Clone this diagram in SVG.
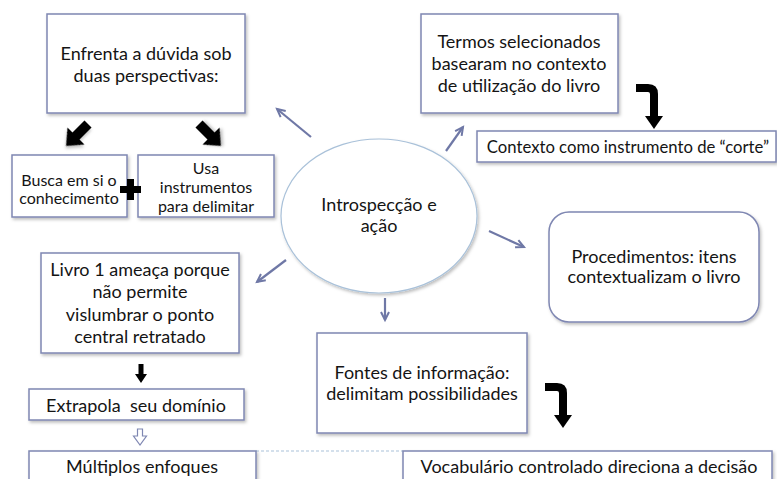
<svg xmlns="http://www.w3.org/2000/svg" width="777" height="479" viewBox="0 0 777 479">
<defs>
<filter id="sh" x="-10%" y="-10%" width="130%" height="140%">
<feDropShadow dx="1.5" dy="2" stdDeviation="1.5" flood-color="#000" flood-opacity="0.25"/>
</filter>
<marker id="ah" markerUnits="userSpaceOnUse" markerWidth="12" markerHeight="12" refX="9" refY="5" orient="auto" viewBox="0 0 12 10">
<path d="M1,1 L9,5 L1,9" fill="none" stroke="#6f78a6" stroke-width="2"/>
</marker>
<g id="bend">
<path d="M0,4 H12 Q18,4 18,10 V33" fill="none" stroke="#000" stroke-width="8"/>
<polygon points="9,32 27,32 18,45" fill="#000"/>
</g>
</defs>
<style>
.box{fill:#fff;stroke:#7f87b2;stroke-width:1.5}
.t{font-family:Lato,"Liberation Sans",sans-serif;font-size:18px;fill:#141414;text-anchor:middle}
.s{font-size:16px}
.c{stroke:#6f78a6;stroke-width:2.2;fill:none}
</style>
<rect width="777" height="479" fill="#fff"/>

<g id="connectors">
<line class="c" x1="311" y1="137" x2="277" y2="109" marker-end="url(#ah)"/>
<line class="c" x1="446" y1="151" x2="463" y2="127" marker-end="url(#ah)"/>
<line class="c" x1="489" y1="231" x2="524" y2="247" marker-end="url(#ah)"/>
<line class="c" x1="286" y1="260" x2="257" y2="282" marker-end="url(#ah)"/>
<line class="c" x1="385" y1="298" x2="385" y2="320" marker-end="url(#ah)"/>
<polygon points="0,0 10,0 10,17 17,17 5,31 -7,17 0,17" transform="translate(88,124) rotate(45) translate(-5,0)" fill="#000" filter="url(#sh)"/>
<polygon points="0,0 10,0 10,17 17,17 5,31 -7,17 0,17" transform="translate(199,124) rotate(-45) translate(-5,0)" fill="#000" filter="url(#sh)"/>
<use href="#bend" x="636" y="84"/>
<use href="#bend" x="545" y="383"/>
<polygon points="138.5,364 143.5,364 143.5,374 147,374 141,383 135,374 138.5,374" fill="#000"/>
<polygon points="137.5,429 142.5,429 142.5,436 146.5,436 140,445 133.5,436 137.5,436" fill="#fff" stroke="#7f87b2" stroke-width="1.2"/>
<line x1="256" y1="451" x2="403" y2="451" stroke="#a9c1d9" stroke-width="1" stroke-dasharray="3,2"/>
</g>

<g id="n-enfrenta">
<rect class="box" x="47" y="14" width="198" height="99" filter="url(#sh)"/>
<text class="t" x="146" y="60">Enfrenta a dúvida sob</text>
<text class="t" x="146" y="82">duas perspectivas:</text>
</g>
<g id="n-busca">
<rect class="box" x="12" y="155" width="115" height="62" filter="url(#sh)"/>
<text class="t s" x="69" y="186">Busca em si o</text>
<text class="t s" x="69" y="204">conhecimento</text>
</g>
<g id="n-usa">
<rect class="box" x="138" y="155" width="136" height="62" filter="url(#sh)"/>
<text class="t s" x="206" y="174">Usa</text>
<text class="t s" x="206" y="193">instrumentos</text>
<text class="t s" x="206" y="212">para delimitar</text>
</g>
<g id="plus">
<path d="M120,186 H127 V179 H134 V186 H141 V193 H134 V200 H127 V193 H120 Z" fill="#000"/>
</g>
<g id="n-intro">
<ellipse cx="379" cy="216" rx="98" ry="77" fill="#fff" stroke="#a9c1d9" stroke-width="1.2" filter="url(#sh)"/>
<text class="t" x="379" y="211">Introspecção e</text>
<text class="t" x="379" y="232">ação</text>
</g>
<g id="n-termos">
<rect class="box" x="421" y="14" width="197" height="99" filter="url(#sh)"/>
<text class="t" x="519" y="48">Termos selecionados</text>
<text class="t" x="519" y="70">basearam no contexto</text>
<text class="t" x="519" y="92">de utilização do livro</text>
</g>
<g id="n-contexto">
<rect class="box" x="477" y="131" width="299" height="31" filter="url(#sh)"/>
<text class="t" x="628" y="153" style="font-size:16.7px">Contexto como instrumento de “corte”</text>
</g>
<g id="n-proc">
<rect class="box" x="549" y="212" width="210" height="110" rx="20" filter="url(#sh)"/>
<text class="t" x="654" y="263">Procedimentos: itens</text>
<text class="t" x="654" y="283">contextualizam o livro</text>
</g>
<g id="n-livro">
<rect class="box" x="41" y="253" width="198" height="100" filter="url(#sh)"/>
<text class="t" x="140" y="276">Livro 1 ameaça porque</text>
<text class="t" x="140" y="298">não permite</text>
<text class="t" x="140" y="321">vislumbrar o ponto</text>
<text class="t" x="140" y="343">central retratado</text>
</g>
<g id="n-extrapola">
<rect class="box" x="29" y="389" width="215" height="31" filter="url(#sh)"/>
<text class="t" x="136" y="412" xml:space="preserve">Extrapola  seu domínio</text>
</g>
<g id="n-multiplos">
<rect class="box" x="29" y="451" width="227" height="40" filter="url(#sh)"/>
<text class="t" x="142" y="473">Múltiplos enfoques</text>
</g>
<g id="n-fontes">
<rect class="box" x="317" y="333" width="210" height="100" filter="url(#sh)"/>
<text class="t" x="422" y="379">Fontes de informação:</text>
<text class="t" x="422" y="400">delimitam possibilidades</text>
</g>
<g id="n-vocab">
<rect class="box" x="403" y="451" width="369" height="40" filter="url(#sh)"/>
<text class="t" x="589" y="473">Vocabulário controlado direciona a decisão</text>
</g>
</svg>
